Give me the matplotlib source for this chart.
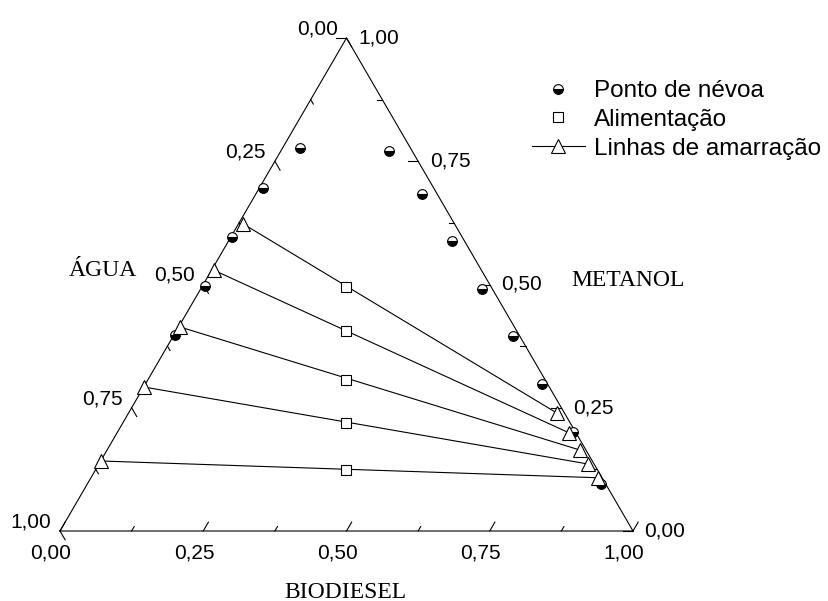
import numpy as np
import matplotlib
matplotlib.use("Agg")
import matplotlib.pyplot as plt
from matplotlib.lines import Line2D

# fracoes (biodiesel, metanol); agua = 1 - biodiesel - metanol
nevoa_bio = [0.030, 0.189, 0.006, 0.290, 0.002, 0.390, 0.004, 0.491, 0.001, 0.593, 0.692, 0.795, 0.897]
nevoa_met = [0.777, 0.771, 0.696, 0.684, 0.596, 0.588, 0.497, 0.491, 0.398, 0.396, 0.298, 0.201, 0.095]

alim_bio = [0.252, 0.296, 0.346, 0.390, 0.437]
alim_met = [0.495, 0.406, 0.306, 0.219, 0.124]

# linhas de amarracao: fase rica em agua / fase rica em biodiesel
lig_esq_bio = [0.008, 0.004, 0.002, 0.001, 0.000]
lig_esq_met = [0.623, 0.529, 0.414, 0.292, 0.142]
lig_dir_bio = [0.748, 0.789, 0.826, 0.853, 0.885]
lig_dir_met = [0.239, 0.199, 0.164, 0.136, 0.108]

ticks = [0.0, 0.125, 0.25, 0.375, 0.5, 0.625, 0.75, 0.875, 1.0]
tick_labels = ["0,00", "0,25", "0,50", "0,75", "1,00"]

H = np.sqrt(3) / 2


def xy(bio, met):
    bio = np.asarray(bio, dtype=float)
    met = np.asarray(met, dtype=float)
    return bio + met / 2, met * H


W, Hpx = 829, 601
fig = plt.figure(figsize=(W / 100, Hpx / 100), dpi=100)
ax = fig.add_axes([60 / W, 70 / Hpx, 573 / W, 493 / Hpx])
ax.set_xlim(0, 1)
ax.set_ylim(0, H)
ax.axis("off")

lw = 0.8
sans = "Liberation Sans"
serif = "Liberation Serif"

# triangulo
ax.plot([0, 1, 0.5, 0], [0, 0, H, 0], color="black", lw=lw, clip_on=False)

# marcas dos eixos
for t in ticks:
    L = 0.018 if abs(t * 4 - round(t * 4)) < 1e-9 else 0.009
    # biodiesel (base)
    x0, y0 = xy(t, 0)
    ax.plot([x0, x0 + L * 0.5], [y0, y0 + L * H], color="black", lw=lw, clip_on=False)
    # agua (lado esquerdo), 0 no topo
    x0, y0 = xy(0, 1 - t)
    ax.plot([x0, x0 + L * 0.5], [y0, y0 - L * H], color="black", lw=lw, clip_on=False)
    # metanol (lado direito)
    x0, y0 = xy(1 - t, t)
    ax.plot([x0, x0 - L], [y0, y0], color="black", lw=lw, clip_on=False)

for i, lab in enumerate(tick_labels):
    t = i * 0.25
    ax.annotate(lab, xy(t, 0), xytext=(-6.5, -16), textcoords="offset points",
                ha="center", va="center", fontsize=15, family=sans)
    ax.annotate(lab, xy(0, 1 - t), xytext=(-21, 6.5), textcoords="offset points",
                ha="center", va="center", fontsize=15, family=sans)
    ax.annotate(lab, xy(1 - t, t), xytext=(23, 0), textcoords="offset points",
                ha="center", va="center", fontsize=15, family=sans)

fig.text(103 / W, 1 - 270 / Hpx, "ÁGUA", ha="center", va="center", fontsize=17, family=serif)
fig.text(628 / W, 1 - 280 / Hpx, "METANOL", ha="center", va="center", fontsize=17, family=serif)
fig.text(345 / W, 1 - 592 / Hpx, "BIODIESEL", ha="center", va="center", fontsize=17, family=serif)

# linhas de amarracao
for be, me, bd, md in zip(lig_esq_bio, lig_esq_met, lig_dir_bio, lig_dir_met):
    xs, ys = xy([be, bd], [me, md])
    ax.plot(xs, ys, color="black", lw=lw, zorder=2)

x, y = xy(nevoa_bio, nevoa_met)
ax.plot(x, y, ls="none", marker="o", ms=7, fillstyle="bottom", mfc="black",
        mfcalt="white", mec="black", mew=0.8, zorder=3, clip_on=False)

x, y = xy(alim_bio, alim_met)
ax.plot(x, y, ls="none", marker="s", ms=6.5, mfc="white", mec="black", mew=0.8, zorder=3)

x, y = xy(lig_esq_bio + lig_dir_bio, lig_esq_met + lig_dir_met)
ax.plot(x, y, ls="none", marker="^", ms=10, mfc="white", mec="black", mew=0.8,
        zorder=4, clip_on=False)

handles = [
    Line2D([], [], ls="none", marker="o", ms=7, fillstyle="bottom", mfc="black",
           mfcalt="white", mec="black", mew=0.8),
    Line2D([], [], ls="none", marker="s", ms=6.5, mfc="white", mec="black", mew=0.8),
    Line2D([], [], color="black", lw=lw, marker="^", ms=10, mfc="white", mec="black", mew=0.8),
]
labels = ["Ponto de névoa", "Alimentação", "Linhas de amarração"]
fig.legend(handles, labels, loc="upper left", bbox_to_anchor=(532 / W, 1 - 80 / Hpx),
           bbox_transform=fig.transFigure, frameon=False, borderpad=0, borderaxespad=0,
           handlelength=2.18, handletextpad=0.37, labelspacing=0.28, numpoints=1,
           prop={"family": sans, "size": 17.5})

fig.savefig("out.png", dpi=100)
